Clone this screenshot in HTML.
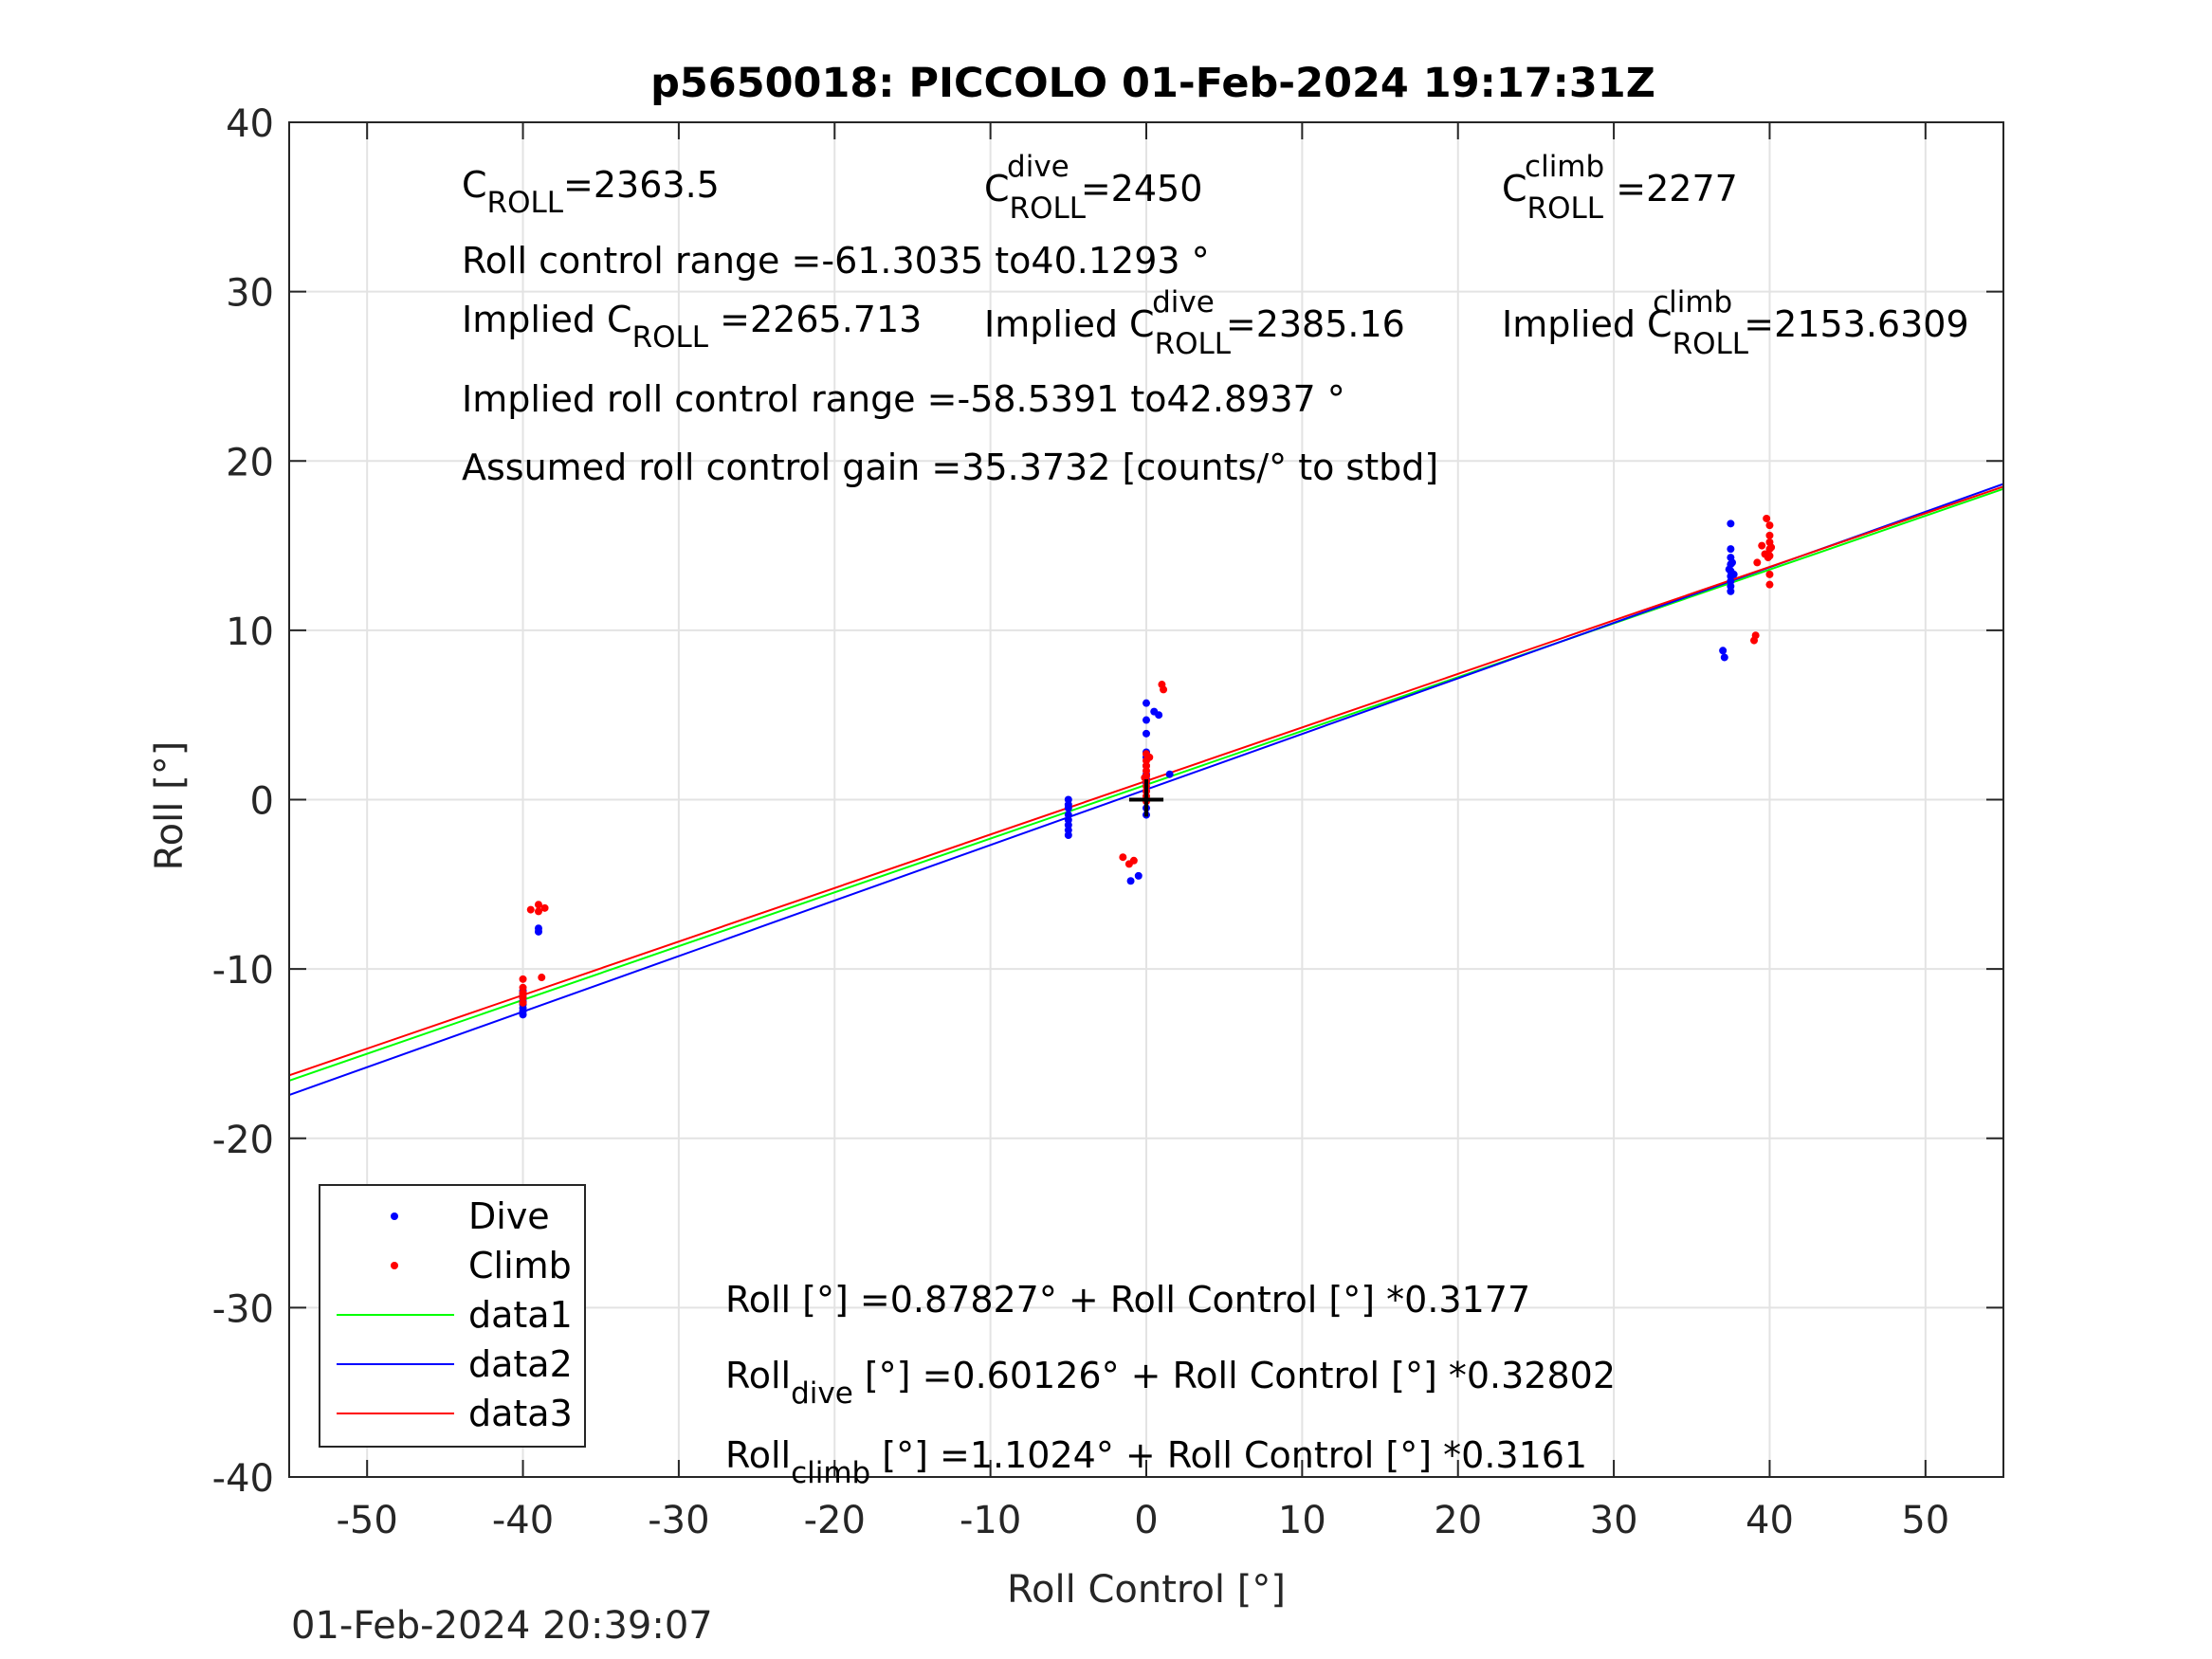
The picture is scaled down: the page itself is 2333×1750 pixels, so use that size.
<!DOCTYPE html>
<html><head><meta charset="utf-8"><style>
html,body{margin:0;padding:0;background:#fff;}
svg{display:block;font-family:"DejaVu Sans","Liberation Sans",sans-serif;}
.tk{font-size:40px;fill:#262626;}
.an{font-size:38px;fill:#000;}
.sub{font-size:31px;}
</style></head><body>
<svg id="chart" width="2333" height="1750" viewBox="0 0 2333 1750">
<rect width="2333" height="1750" fill="#fff"/>
<g id="grid"></g>
<g id="lines"></g>
<g id="pts"></g>
<g id="axes"></g>
<text x="1216" y="102" text-anchor="middle" font-size="43" font-weight="bold">p5650018: PICCOLO 01-Feb-2024 19:17:31Z</text>
<text x="1209" y="1690" text-anchor="middle" class="tk">Roll Control [°]</text>
<text transform="translate(192,850) rotate(-90)" text-anchor="middle" class="tk">Roll [°]</text>
<text x="307" y="1728" class="tk">01-Feb-2024 20:39:07</text>
<g>
<text class="an" x="487" y="208">C<tspan class="sub" dy="16">ROLL</tspan><tspan dy="-16">=2363.5</tspan></text>
<text class="an" x="1038" y="212">C<tspan class="sub" dy="18">ROLL</tspan><tspan class="sub" dx="-83" dy="-44">dive</tspan><tspan dy="26"> =2450</tspan></text>
<text class="an" x="1584" y="212">C<tspan class="sub" dy="18">ROLL</tspan><tspan class="sub" dx="-83" dy="-44">climb</tspan><tspan dy="26"> =2277</tspan></text>
<text class="an" x="487" y="288">Roll control range =-61.3035 to40.1293 °</text>
<text class="an" x="487" y="350">Implied C<tspan class="sub" dy="16">ROLL</tspan><tspan dy="-16"> =2265.713</tspan></text>
<text class="an" x="1038" y="355">Implied C<tspan class="sub" dy="18">ROLL</tspan><tspan class="sub" dx="-83" dy="-44">dive</tspan><tspan dy="26"> =2385.16</tspan></text>
<text class="an" x="1584" y="355">Implied C<tspan class="sub" dy="18">ROLL</tspan><tspan class="sub" dx="-101" dy="-44">climb</tspan><tspan dy="26"> =2153.6309</tspan></text>
<text class="an" x="487" y="434">Implied roll control range =-58.5391 to42.8937 °</text>
<text class="an" x="487" y="506">Assumed roll control gain =35.3732 [counts/° to stbd]</text>
<text class="an" x="765" y="1384">Roll [°] =0.87827° + Roll Control [°] *0.3177</text>
<text class="an" x="765" y="1464">Roll<tspan class="sub" dy="16">dive</tspan><tspan dy="-16"> [°] =0.60126° + Roll Control [°] *0.32802</tspan></text>
<text class="an" x="765" y="1548">Roll<tspan class="sub" dy="16">climb</tspan><tspan dy="-16"> [°] =1.1024° + Roll Control [°] *0.3161</tspan></text>
</g>
<g>
<rect x="337" y="1250" width="280" height="276" fill="#fff" stroke="#262626" stroke-width="2"/>
<circle cx="416" cy="1283" r="4" fill="#0000ff"/>
<text x="494" y="1296" class="an">Dive</text>
<circle cx="416" cy="1335" r="4" fill="#ff0000"/>
<text x="494" y="1348" class="an">Climb</text>
<line x1="355" x2="479" y1="1387" y2="1387" stroke="#00ff00" stroke-width="2"/>
<text x="494" y="1400" class="an">data1</text>
<line x1="355" x2="479" y1="1439" y2="1439" stroke="#0000ff" stroke-width="2"/>
<text x="494" y="1452" class="an">data2</text>
<line x1="355" x2="479" y1="1491" y2="1491" stroke="#ff0000" stroke-width="2"/>
<text x="494" y="1504" class="an">data3</text>
</g>
</svg>
<script>
const xTicks=[-50,-40,-30,-20,-10,0,10,20,30,40,50];
const yTicks=[-40,-30,-20,-10,0,10,20,30,40];
const fitNames=['data1','data2','data3'];
const fitIntercepts=[0.87827,0.60126,1.1024];
const fitSlopes=[0.3177,0.32802,0.3161];
const fitColors=['#00ff00','#0000ff','#ff0000'];
const diveX=[-40,-40,-40,-40,-40,-40,-40,-40,-39,-39,-5,-5,-5,-5,-5,-5,-5,-5,0,0,0,0,0,0,0,0,0,0,0,0,0,-0.5,-1,0.5,0.8,1.5,37.5,37.5,37.5,37.5,37.5,37.5,37.5,37.5,37.5,37.6,37.4,37.7,37,37.1];
const diveY=[-12.7,-12.5,-12.3,-12.1,-11.9,-11.7,-11.5,-11.3,-7.6,-7.8,0,-0.5,-0.9,-1.2,-1.5,-1.8,-2.1,-0.3,5.7,4.7,3.9,2.5,2.0,1.5,1.0,0.5,0,-0.5,-0.9,2.8,1.2,-4.5,-4.8,5.2,5.0,1.5,16.3,14.8,14.3,13.9,13.5,13.2,12.9,12.6,12.3,14.0,13.6,13.3,8.8,8.4];
const climbX=[-40,-40,-40,-40,-40,-40,-39.5,-39,-39,-38.8,-38.6,0,0,0,0,0,0,0,0,0,0,0.2,-0.1,-1.5,-1.1,-0.8,1,1.1,39.8,40,40,40,40,39.7,39.9,40.1,39.5,40,40,39,39.1,39.2,40];
const climbY=[-12,-11.7,-11.4,-11.1,-11.5,-10.6,-6.5,-6.2,-6.6,-10.5,-6.4,2.7,2.3,2.0,1.7,1.4,1.1,0.8,0.5,0.2,-0.1,2.5,1.3,-3.4,-3.8,-3.6,6.8,6.5,16.6,16.2,15.6,15.2,14.8,14.5,14.3,14.9,15.0,13.3,12.7,9.4,9.7,14.0,14.4];
const L=305,R=2113,T=129,B=1558,xMin=-55,xMax=55,yMin=-40,yMax=40;
const sx=v=>L+(v-xMin)/(xMax-xMin)*(R-L);
const sy=v=>B-(v-yMin)/(yMax-yMin)*(B-T);
const NS='http://www.w3.org/2000/svg';
function mk(tag,attrs,parent){const e=document.createElementNS(NS,tag);for(const k in attrs)e.setAttribute(k,attrs[k]);parent.appendChild(e);return e;}
const grid=document.getElementById('grid'),axes=document.getElementById('axes'),lines=document.getElementById('lines'),pts=document.getElementById('pts');
xTicks.forEach(t=>{
 const g=mk('line',{x1:sx(t),x2:sx(t),y1:T,y2:B,stroke:'#e3e3e3','stroke-width':2},grid);
 
 
 mk('line',{x1:sx(t),x2:sx(t),y1:B,y2:B-18,stroke:'#262626','stroke-width':2},axes);
 mk('line',{x1:sx(t),x2:sx(t),y1:T,y2:T+18,stroke:'#262626','stroke-width':2},axes);
 const tx=mk('text',{x:sx(t),y:B+59,'text-anchor':'middle',class:'tk'},axes);
 
 
 tx.textContent=t;
});
yTicks.forEach(t=>{
 const g=mk('line',{x1:L,x2:R,y1:sy(t),y2:sy(t),stroke:'#e3e3e3','stroke-width':2},grid);
 
 
 mk('line',{x1:L,x2:L+18,y1:sy(t),y2:sy(t),stroke:'#262626','stroke-width':2},axes);
 mk('line',{x1:R,x2:R-18,y1:sy(t),y2:sy(t),stroke:'#262626','stroke-width':2},axes);
 const tx=mk('text',{x:L-16,y:sy(t)+15,'text-anchor':'end',class:'tk'},axes);
 
 
 tx.textContent=t;
});
mk('rect',{x:L,y:T,width:R-L,height:B-T,fill:'none',stroke:'#262626','stroke-width':2},axes);
fitNames.forEach((n,i)=>{
 const l=mk('line',{x1:sx(xMin),y1:sy(fitIntercepts[i]+fitSlopes[i]*xMin),x2:sx(xMax),y2:sy(fitIntercepts[i]+fitSlopes[i]*xMax),stroke:fitColors[i],'stroke-width':2},lines);
 
 
});
diveX.forEach((x,i)=>{
 const c=mk('circle',{cx:sx(x),cy:sy(diveY[i]),r:4,fill:'#0000ff'},pts);
 
 
});
climbX.forEach((x,i)=>{
 const c=mk('circle',{cx:sx(x),cy:sy(climbY[i]),r:4,fill:'#ff0000'},pts);
 
 
});
const cross=mk('path',{d:`M${sx(-1.1)} ${sy(0)}H${sx(1.1)}M${sx(0)} ${sy(1.2)}V${sy(-1)}`,stroke:'#000','stroke-width':4,fill:'none'},pts);


</script>
</body></html>
